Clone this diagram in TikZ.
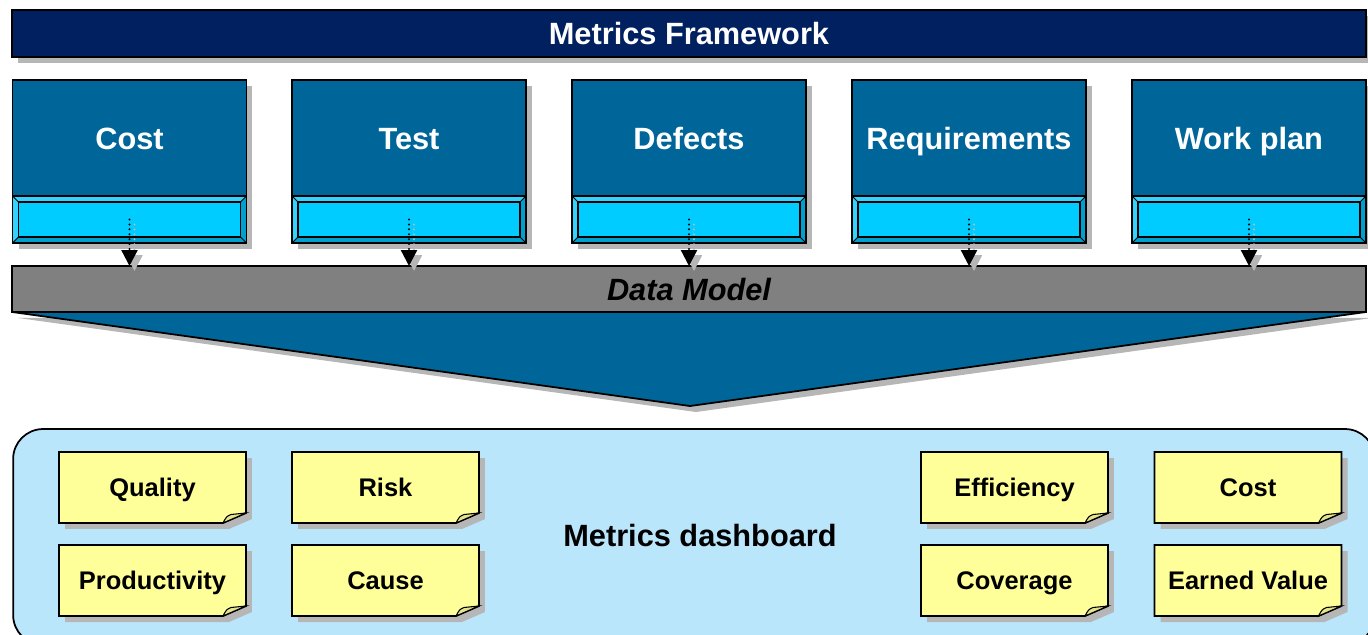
\documentclass[tikz,border=0pt]{standalone}
\usepackage{fontspec}
\setmainfont{Liberation Sans}
\usetikzlibrary{positioning,arrows.meta,shadows,calc}

\definecolor{navy}{RGB}{0,32,96}
\definecolor{boxblue}{RGB}{0,102,153}
\definecolor{barcyan}{RGB}{0,204,255}
\definecolor{bevellight}{RGB}{51,210,255}
\definecolor{beveldark}{RGB}{0,160,206}
\definecolor{modelgray}{RGB}{128,128,128}
\definecolor{dashblue}{RGB}{186,230,252}
\definecolor{noteyellow}{RGB}{255,255,153}
\definecolor{foldyellow}{RGB}{228,228,140}
\definecolor{shadowgray}{RGB}{182,182,182}

\tikzset{
  bigfont/.style={font=\fontsize{17.5}{20}\selectfont\bfseries,
      text height=12.6pt,text depth=0pt},
  smallfont/.style={font=\fontsize{14.5}{17}\selectfont\bfseries,
      text height=10.4pt,text depth=0pt},
  shade6/.style={drop shadow={shadow xshift=0.12cm,shadow yshift=-0.12cm,
      fill=shadowgray,opacity=1}},
  titlebar/.style={draw,line width=1pt,fill=navy,text=white,bigfont,
      minimum width=27.08cm,minimum height=0.94cm,inner sep=0,outer sep=0,shade6},
  catbox/.style={draw,line width=1pt,fill=boxblue,text=white,bigfont,
      minimum width=4.68cm,minimum height=2.32cm,inner sep=0,outer sep=0,shade6},
  catbar/.style={draw,line width=1pt,fill=beveldark,
      minimum width=4.68cm,minimum height=0.94cm,inner sep=0,outer sep=0,shade6},
  modelbar/.style={draw,line width=1pt,fill=modelgray,bigfont,
      minimum width=27.08cm,minimum height=0.92cm,inner sep=0,outer sep=0},
  dashbox/.style={draw,line width=1pt,fill=dashblue,rounded corners=0.6cm,
      minimum width=27.24cm,minimum height=4.32cm,inner sep=0,outer sep=0},
  notetext/.style={smallfont,inner sep=0},
  flowline/.style={line width=1.3pt,line cap=round,dash pattern=on 0pt off 2.8pt,
      -{Triangle[length=0.32cm,width=0.32cm]}},
  flowshadow/.style={flowline,draw=shadowgray,shadowgray}
}

% bevelled strip under each category box
\newcommand\bevelbar[1]{%
  \fill[bevellight] (#1.south west) -- (#1.north west) -- (#1.north east)
    -- ([shift={(-0.12cm,-0.12cm)}]#1.north east)
    -- ([shift={(0.12cm,-0.12cm)}]#1.north west)
    -- ([shift={(0.12cm,0.12cm)}]#1.south west) -- cycle;
  \draw[line width=0.8pt,fill=barcyan] ([shift={(0.12cm,-0.12cm)}]#1.north west)
    rectangle ([shift={(-0.12cm,0.12cm)}]#1.south east);
  \draw[line width=0.5pt]
    (#1.north west) -- ([shift={(0.12cm,-0.12cm)}]#1.north west)
    (#1.north east) -- ([shift={(-0.12cm,-0.12cm)}]#1.north east)
    (#1.south west) -- ([shift={(0.12cm,0.12cm)}]#1.south west)
    (#1.south east) -- ([shift={(-0.12cm,0.12cm)}]#1.south east);
  \draw[line width=1pt] (#1.south west) rectangle (#1.north east);
}

% sticky note with folded corner: name, centre, text
\newcommand\notecard[3]{%
  \filldraw[line width=1pt,fill=noteyellow,shade6]
    ([shift={(-1.87cm,0.71cm)}]#2) -- ([shift={(1.87cm,0.71cm)}]#2)
    -- ([shift={(1.87cm,-0.51cm)}]#2) -- ([shift={(1.41cm,-0.71cm)}]#2)
    -- ([shift={(-1.87cm,-0.71cm)}]#2) -- cycle;
  \filldraw[line width=0.6pt,fill=foldyellow]
    ([shift={(1.41cm,-0.71cm)}]#2) .. controls ([shift={(1.48cm,-0.58cm)}]#2)
    .. ([shift={(1.57cm,-0.54cm)}]#2) -- ([shift={(1.87cm,-0.51cm)}]#2) -- cycle;
  \node[notetext] (#1) at (#2) {#3};
}

\begin{document}
\begin{tikzpicture}[x=0.02cm,y=-0.02cm]
  \useasboundingbox (0,0) rectangle (1368,635);
  % Title
  \node[titlebar] (title) at (689,33.5) {Metrics Framework};
  % Category boxes
  \node[catbox] (cost) at (129.5,138) {Cost};
  \node[catbar,below=0pt of cost] (cost-bar) {};
  \node[catbox] (test) at (409,138) {Test};
  \node[catbar,below=0pt of test] (test-bar) {};
  \node[catbox] (defects) at (689,138) {Defects};
  \node[catbar,below=0pt of defects] (defects-bar) {};
  \node[catbox] (reqs) at (969,138) {Requirements};
  \node[catbar,below=0pt of reqs] (reqs-bar) {};
  \node[catbox] (plan) at (1249,138) {Work plan};
  \node[catbar,below=0pt of plan] (plan-bar) {};
  \bevelbar{cost-bar}
  \bevelbar{test-bar}
  \bevelbar{defects-bar}
  \bevelbar{reqs-bar}
  \bevelbar{plan-bar}
  % Data model and funnel
  \node[modelbar] (model) at (689,289) {\itshape Data Model};
  \coordinate (tip) at (690,406);
  \filldraw[line width=1pt,fill=boxblue,shade6]
    (model.south west) -- (tip) -- (model.south east) -- cycle;
  % Feeds into the data model
  \foreach \n in {cost,test,defects,reqs,plan} {
    \draw[flowshadow] ($(\n-bar.center)+(5,5)$) -- ($(\n-bar.center |- model.north)+(5,5)$);
    \draw[flowline] (\n-bar.center) -- (\n-bar.center |- model.north);
  }
  % Dashboard
  \node[dashbox] (dash) at (694,537) {};
  \node[bigfont] (dashlabel) at (700,535) {Metrics dashboard};
  \notecard{quality}{152.5,487.5}{Quality}
  \notecard{productivity}{152.5,580.5}{Productivity}
  \notecard{risk}{385.5,487.5}{Risk}
  \notecard{cause}{385.5,580.5}{Cause}
  \notecard{efficiency}{1014.5,487.5}{Efficiency}
  \notecard{coverage}{1014.5,580.5}{Coverage}
  \notecard{costnote}{1248,487.5}{Cost}
  \notecard{earned}{1248,580.5}{Earned Value}
\end{tikzpicture}
\end{document}
